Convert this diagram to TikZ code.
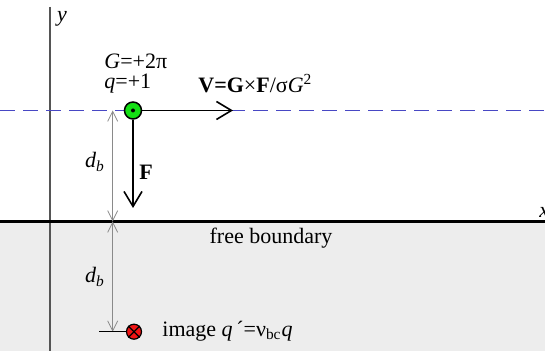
\documentclass[tikz,border=0pt]{standalone}
\usepackage{fontspec}
\setmainfont{Liberation Serif}
\usepackage{xcolor}
\definecolor{cTrack}{HTML}{4848C4}
\definecolor{cSrc}{HTML}{14E014}
\definecolor{cImg}{HTML}{F01414}
\definecolor{cShade}{HTML}{EDEDED}
\definecolor{cAxis}{HTML}{555555}
\definecolor{cDim}{HTML}{8A8A8A}
\usepackage{tikz}
\usetikzlibrary{arrows.meta}
\tikzset{
  node-src/.style={draw=black,line width=0.75pt,circle,fill=cSrc,
    minimum size=8.5pt,inner sep=0pt},
  node-img/.style={draw=black,line width=0.6pt,circle,fill=cImg,
    minimum size=7.5pt,inner sep=0pt},
  node-dot/.style={circle,fill=black,minimum size=2pt,inner sep=0pt},
  node-label/.style={font=\fontsize{11}{13}\selectfont,inner sep=0pt},
  arrow-vec/.style={-{Straight Barb[length=7.5pt,width=9pt,line width=0.8pt]},
    line width=0.9pt,draw=black},
  dim-line/.style={{Straight Barb[length=5pt,width=5pt]}-{Straight Barb[length=5pt,width=5pt]},
    line width=0.4pt,draw=cDim},
  axis-line/.style={line width=0.7pt,draw=cAxis},
  boundary-line/.style={line width=1.6pt,draw=black},
  track-line/.style={dash pattern=on 7.5pt off 4pt,line width=0.9pt,draw=cTrack},
}

\begin{document}
\begin{tikzpicture}[x=0.5pt,y=-0.5pt]
  \useasboundingbox (0,0) rectangle (545,351);
  % image half-plane
  \fill[cShade] (0,222) rectangle (545,351);
  % y axis
  \coordinate (ytop) at (50,7);
  \coordinate (ybot) at (50,351);
  \draw[axis-line] (ytop) -- (ybot);
  \node[node-label] (ylab) at (62,19) {\textit{y}};
  % free boundary
  \coordinate (bl) at (0,221.5);
  \coordinate (br) at (545,221.5);
  \draw[boundary-line] (bl) -- (br);
  \node[node-label,anchor=west] (xlab) at (539,212) {\textit{x}};
  \node[node-label] (fb) at (271,238) {free boundary};
  % track of the vortex
  \coordinate (tl) at (0,110.5);
  \coordinate (tr) at (545,110.5);
  \draw[track-line] (tl) -- (tr);
  % distances
  \coordinate (dtop) at (112.7,110.5);
  \coordinate (dmid) at (112.7,221.5);
  \coordinate (dbot) at (112.7,331.7);
  \draw[dim-line] (dtop) -- (dmid);
  \draw[dim-line] (dmid) -- (dbot);
  \node[node-label] (db1) at (95,162) {\textit{d}\textsubscript{\textit{b}}};
  \node[node-label] (db2) at (95,277) {\textit{d}\textsubscript{\textit{b}}};
  % vortex and its image
  \node[node-src] (src) at (133,110.5) {};
  \node[node-dot] (srcdot) at (src.center) {};
  \node[node-img] (img) at (134,331.7) {};
  \draw[line width=0.6pt] (img.north west) -- (img.south east);
  \draw[line width=0.6pt] (img.south west) -- (img.north east);
  \coordinate (tick) at (99,331.7);
  \draw[line width=0.6pt] (tick) -- (img.west);
  % velocity and force
  \coordinate (vtip) at (233,110.5);
  \coordinate (ftip) at (133,208);
  \draw[arrow-vec] (src.east) -- (vtip);
  \draw[arrow-vec] (src.south) -- (ftip);
  \node[node-label] (flab) at (146,172) {\textbf{F}};
  \node[node-label,anchor=west] (glab) at (104,61) {\textit{G}=+2π};
  \node[node-label,anchor=west] (qlab) at (104,84) {\textit{q}=+1};
  \node[node-label,anchor=west] (vlab) at (198,84)
    {\textbf{V=G}×\textbf{F}/σ\textit{G}\textsuperscript{2}};
  \node[node-label,anchor=west] (imlab) at (162,331)
    {image \textit{q}\,´=ν\textsubscript{bc}\textit{q}};
\end{tikzpicture}
\end{document}
